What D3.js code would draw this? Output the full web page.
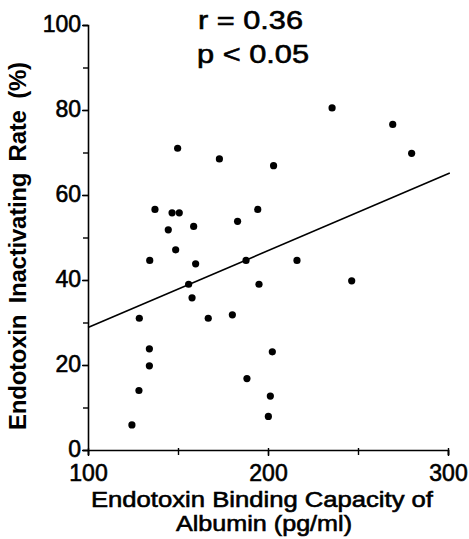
<!DOCTYPE html>
<html>
<head>
<meta charset="utf-8">
<script src="https://cdn.jsdelivr.net/npm/d3@7"></script>
<style>
  body { margin: 0; background: #fff; }
  text { font-family: "Liberation Sans", Arial, sans-serif; fill: #000; }
  .heavy { stroke: #000; stroke-width: 0.6px; }
</style>
</head>
<body>
<div id="chart"></div>
<script>
// binding capacity (pg/ml) and inactivating rate (%) per patient
var capacity = [235.6, 269.3, 279.8, 149.8, 173, 203.1, 137.2, 146.7, 150.7, 144.6, 158.7,
                183.1, 194.3, 148.7, 134.3, 159.8, 187.8, 216.1, 155.9, 157.8, 195, 246.5,
                128.5, 166.8, 180.2, 134.1, 134.1, 202.4, 128.3, 188.3, 201.3, 200.2, 124.4];
var rate = [80.5, 76.6, 69.8, 71, 68.5, 66.9, 56.6, 55.8, 55.8, 51.8, 52.6,
            53.8, 56.6, 47.1, 44.6, 43.8, 44.6, 44.6, 39, 35.8, 39, 39.8,
            31, 31, 31.8, 23.8, 19.8, 23.1, 14, 16.8, 12.7, 7.9, 5.9];
var fitX = [100, 301];
var fitY = [28.8, 65.2];
var xTicks = [100, 200, 300];
var yTicks = [0, 20, 40, 60, 80, 100];

var width = 469, height = 539;

var x = d3.scaleLinear().domain([100, 300]).range([88, 448]);
var y = d3.scaleLinear().domain([0, 100]).range([450, 25]);

var svg = d3.select("#chart").append("svg")
    .attr("width", width)
    .attr("height", height);

// axes
var xAxis = svg.append("g")
    .attr("transform", "translate(0," + y(0) + ")")
    .call(d3.axisBottom(x).tickValues(d3.range(100, 301, 50)).tickSize(5).tickFormat(""));
xAxis.selectAll(".tick line").attr("y1", -2);
svg.append("g")
    .attr("transform", "translate(0," + y(0) + ")")
    .call(d3.axisBottom(x).tickValues(xTicks).tickSize(6).tickPadding(9).tickFormat(d3.format("d")))
    .call(function(g) { g.select(".domain").remove(); });

svg.append("g")
    .attr("transform", "translate(" + x(100) + ",0)")
    .call(d3.axisLeft(y).tickValues(d3.range(0, 101, 10)).tickSize(5).tickFormat(""));
var yLab = svg.append("g")
    .attr("transform", "translate(" + x(100) + ",0)")
    .call(d3.axisLeft(y).tickValues(yTicks).tickSize(6).tickPadding(1).tickFormat(d3.format("d")))
    .call(function(g) { g.select(".domain").remove(); });
yLab.selectAll(".tick text").attr("dy", "0.28em");

svg.selectAll(".domain").attr("stroke", "#000").attr("stroke-width", 1.6);
svg.selectAll(".tick line").attr("stroke", "#000").attr("stroke-width", 1.4);
svg.selectAll(".tick text")
    .attr("class", "heavy")
    .style("font-size", "23px")
    .attr("fill", "#000");

// regression line
svg.append("line")
    .attr("x1", x(fitX[0])).attr("y1", y(fitY[0]))
    .attr("x2", x(fitX[1])).attr("y2", y(fitY[1]))
    .attr("stroke", "#000")
    .attr("stroke-width", 1.6);

// points
svg.selectAll("circle.pt")
    .data(d3.range(capacity.length))
    .enter().append("circle")
    .attr("class", "pt")
    .attr("cx", function(i) { return x(capacity[i]); })
    .attr("cy", function(i) { return y(rate[i]); })
    .attr("r", 3.6)
    .attr("fill", "#000");

// stats
svg.append("text").attr("class", "heavy").attr("x", 198).attr("y", 29)
    .attr("textLength", 105).attr("lengthAdjust", "spacingAndGlyphs")
    .style("font-size", "26px").text("r = 0.36");
svg.append("text").attr("class", "heavy").attr("x", 197).attr("y", 63)
    .attr("textLength", 112).attr("lengthAdjust", "spacingAndGlyphs")
    .style("font-size", "26px").text("p < 0.05");

// axis titles
svg.append("text")
    .attr("transform", "translate(26,246) rotate(-90)")
    .attr("text-anchor", "middle")
    .attr("textLength", 368).attr("lengthAdjust", "spacing")
    .style("font-size", "24px")
    .style("font-weight", "bold")
    .style("word-spacing", "5px")
    .text("Endotoxin Inactivating Rate (%)");

svg.append("text").attr("class", "heavy").attr("x", 262).attr("y", 507).attr("text-anchor", "middle")
    .attr("textLength", 342).attr("lengthAdjust", "spacingAndGlyphs")
    .style("font-size", "22px").text("Endotoxin Binding Capacity of");
svg.append("text").attr("class", "heavy").attr("x", 264).attr("y", 531).attr("text-anchor", "middle")
    .attr("textLength", 176).attr("lengthAdjust", "spacingAndGlyphs")
    .style("font-size", "22px").text("Albumin (pg/ml)");
</script>
</body>
</html>
